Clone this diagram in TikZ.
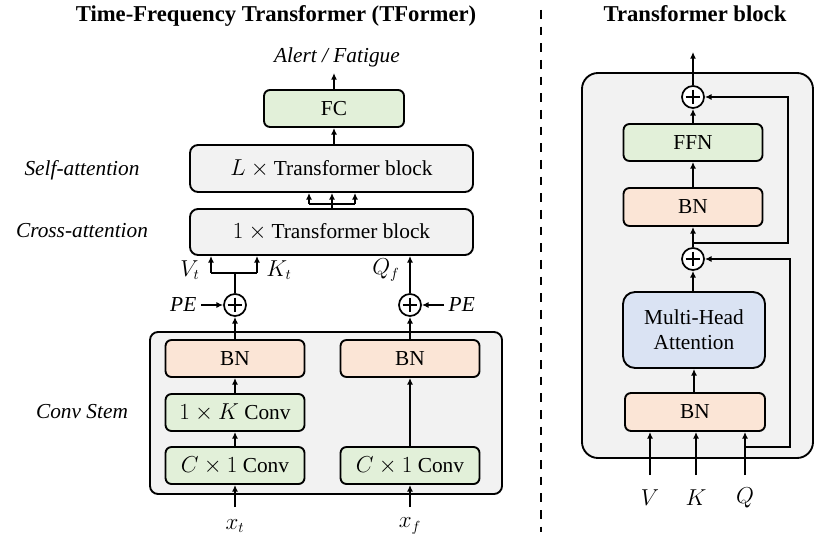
\documentclass[tikz,border=0pt]{standalone}
\usepackage{fontspec}
\setmainfont{Liberation Serif}
\usetikzlibrary{arrows.meta}
\definecolor{graybg}{HTML}{F2F2F2}
\definecolor{greenbg}{HTML}{E2F0D9}
\definecolor{orangebg}{HTML}{FBE5D6}
\definecolor{bluebg}{HTML}{DAE3F3}
\begin{document}
\begin{tikzpicture}[x=0.75pt,y=-0.75pt,
  every node/.style={font=\fontsize{16}{19}\selectfont},
  box/.style={draw, line width=1.4pt, rounded corners=4.5pt, inner sep=0pt},
  sz/.style 2 args={minimum width=#1*0.75pt, minimum height=#2*0.75pt},
  gbox/.style={box, fill=graybg, rounded corners=6pt},
  gnbox/.style={box, fill=greenbg},
  obox/.style={box, fill=orangebg},
  bbox/.style={box, fill=bluebg, rounded corners=9pt},
  arr/.style={line width=1.4pt, -{Latex[length=5pt,width=4.5pt]}},
  ln/.style={line width=1.4pt},
  plus/.style={circle, draw, line width=1.3pt, fill=white, minimum size=16.5pt, inner sep=0pt,
    path picture={\draw[line width=1.3pt]
      ([yshift=-2.8pt]path picture bounding box.north) -- ([yshift=2.8pt]path picture bounding box.south)
      ([xshift=2.8pt]path picture bounding box.west) -- ([xshift=-2.8pt]path picture bounding box.east);}},
  ttl/.style={font=\bfseries\fontsize{17}{20}\selectfont, anchor=base},
  lab/.style={font=\itshape\fontsize{16}{19}\selectfont, anchor=base},
]
\useasboundingbox (0,0) rectangle (814,545);

% titles
\node[ttl] (t1) at (276,22) {Time-Frequency Transformer (TFormer)};
\node[ttl] (t2) at (695,22) {Transformer block};

% dashed separator
\coordinate (d1) at (541,10);
\coordinate (d2) at (541,532);
\draw[line width=1.4pt, dash pattern=on 6.5pt off 6pt] (d1) -- (d2);

% ---------- left ----------
\node[lab] (out) at (337,63) {Alert / Fatigue};
\node[gnbox, sz={140}{37}] (fc) at (334,108.5) {FC};
\node[gbox, sz={283}{47}] (lb) at (331.5,168.5) {$L\times{}$Transformer block};
\node[gbox, sz={283}{46}] (ob) at (331.5,232) {$1\times{}$Transformer block};

\node[lab] (sa) at (82,176) {Self-attention};
\node[lab] (ca) at (82,238) {Cross-attention};
\node[lab] (cs) at (82,418) {Conv Stem};

\coordinate (fcarr) at (334,73);
\draw[arr] (fc.north) -- (fcarr);
\draw[arr] (lb.north -| fc) -- (fc.south);

% bus between blocks
\coordinate (bus) at (332,204);
\coordinate (busl) at (309,204);
\coordinate (busr) at (355,204);
\draw[ln] (ob.north -| bus) -- (bus);
\draw[arr] (busl) -- (busl |- lb.south);
\draw[arr] (busr) -- (busr |- lb.south);
\draw[arr] (bus) -- (bus |- lb.south);
\draw[ln] (busl) -- (busr);

% conv stem
\node[gbox, sz={352}{162}, rounded corners=6pt] (stem) at (326,413) {};
\node[obox, sz={139}{37}] (bnl) at (235,358.5) {BN};
\node[gnbox, sz={139}{37}] (kc) at (235,412.5) {$1\times K$ Conv};
\node[gnbox, sz={139}{37}] (cl) at (235,465.5) {$C\times 1$ Conv};
\node[obox, sz={139}{37}] (bnr) at (410,358.5) {BN};
\node[gnbox, sz={139}{37}] (cr) at (410,465.5) {$C\times 1$ Conv};

\node (xt) at (235,526) {$x_t$};
\node (xf) at (410,526) {$x_f$};
\coordinate (xts) at (235,507);
\coordinate (xfs) at (410,507);
\draw[arr] (xts) -- (cl.south);
\draw[arr] (xfs) -- (cr.south);
\draw[arr] (cl) -- (kc);
\draw[arr] (kc) -- (bnl);
\draw[arr] (cr) -- (bnr);

% plus circles
\node[plus] (pl) at (235,305) {};
\node[plus] (pr) at (410,305) {};
\draw[arr] (bnl.north) -- (pl.south);
\draw[arr] (bnr.north) -- (pr.south);
\node[lab, anchor=east] (pel) at (201,305) {$\mathit{PE}$};
\node[lab, anchor=west] (per) at (444,305) {$\mathit{PE}$};
\draw[arr] (pel.east) -- (pl.west);
\draw[arr] (per.west) -- (pr.east);

% V_t / K_t bus
\coordinate (vk) at (235,273);
\coordinate (vkl) at (211,273);
\coordinate (vkr) at (257,273);
\draw[ln] (pl.north) -- (vk);
\draw[ln] (vkl) -- (vkr);
\draw[arr] (vkl) -- (vkl |- ob.south);
\draw[arr] (vkr) -- (vkr |- ob.south);
\draw[arr] (pr.north) -- (pr.north |- ob.south);
\node (vt) at (190,270) {$V_t$};
\node (kt) at (279,270) {$K_t$};
\node (qf) at (386,270) {$Q_f$};

% ---------- right ----------
\node[gbox, sz={231}{385}, rounded corners=12pt] (tb) at (697.5,265.5) {};
\node[plus] (p1) at (693,97) {};
\node[gnbox, sz={139}{37}] (ffn) at (693,142.5) {FFN};
\node[obox, sz={139}{38}] (bn1) at (693,207) {BN};
\node[plus] (p2) at (693,259) {};
\node[bbox, sz={142}{76}, align=center] (mha) at (694,330) {Multi-Head\\Attention};
\node[obox, sz={140}{38}] (bn2) at (695,412) {BN};

\coordinate (top) at (693,52);
\draw[arr] (p1.north) -- (top);
\draw[arr] (ffn.north) -- (p1.south);
\draw[arr] (bn1.north) -- (ffn.south);
\draw[arr] (p2.north) -- (bn1.south);
\draw[arr] (mha.north -| p2) -- (p2.south);
\draw[arr] (bn2.north -| mha) -- (mha.south);

% skip connections
\coordinate (s1) at (693,243);
\coordinate (s1r) at (788,243);
\draw[arr] (s1) -- (s1r) -- (s1r |- p1) -- (p1.east);
\coordinate (s2) at (745,447);
\coordinate (s2r) at (790,447);
\draw[arr] (s2) -- (s2r) -- (s2r |- p2) -- (p2.east);

% inputs
\coordinate (vi) at (650,475);
\coordinate (ki) at (696,475);
\coordinate (qi) at (745,475);
\draw[arr] (vi) -- (vi |- bn2.south);
\draw[arr] (ki) -- (ki |- bn2.south);
\draw[arr] (qi) -- (qi |- bn2.south);
\node (vl) at (650,498) {$V$};
\node (kl) at (696,498) {$K$};
\node (ql) at (745,498) {$Q$};
\end{tikzpicture}
\end{document}
